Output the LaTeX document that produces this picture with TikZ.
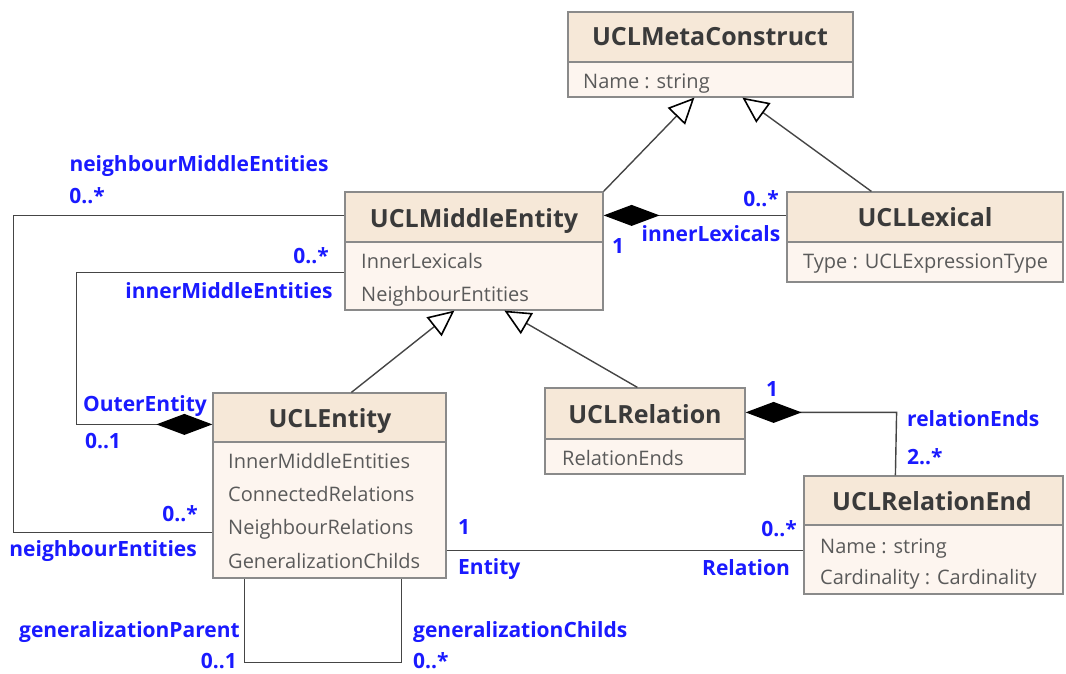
\documentclass[tikz,border=0pt]{standalone}
\usepackage{fontspec}
\setmainfont{Open Sans}
\usetikzlibrary{arrows.meta,fit,calc}

\definecolor{hdr}{HTML}{F6E8D8}
\definecolor{bdy}{HTML}{FDF5EF}
\definecolor{framecol}{HTML}{8A8A8A}
\definecolor{ink}{HTML}{3A3A3A}
\definecolor{attrink}{HTML}{5A5A5A}
\definecolor{rolecol}{HTML}{1A1AFF}
\definecolor{wirecol}{HTML}{454545}

% class box: name, x1, y1, x2, y2, y of header rule
\newcommand\umlbox[6]{%
  \fill[hdr] (#2,#3) rectangle (#4,#6);
  \fill[bdy] (#2,#6) rectangle (#4,#5);
  \draw[framecol, line width=1.2pt] (#2,#6) -- (#4,#6);
  \node[classframe, fit={(#2,#3)(#4,#5)}] (#1) {};
}

\begin{document}
\begin{tikzpicture}[x=1pt,y=-1pt,
  classframe/.style={draw=framecol, line width=1.2pt, inner sep=0pt},
  title/.style={font=\fontsize{25}{25}\selectfont\bfseries, text=ink, inner sep=0pt, anchor=mid, yshift=-6pt},
  attr/.style={font=\fontsize{20}{20}\selectfont, text=attrink, inner sep=0pt, anchor=mid west, yshift=-4pt},
  role/.style={font=\fontsize{21}{21}\selectfont\bfseries, text=rolecol, inner sep=0pt, anchor=mid, yshift=-4pt},
  wire/.style={draw=wirecol, line width=1.4pt},
  gen/.style={wire, -{Triangle[open, length=26pt, width=24pt, fill=white, line width=1.6pt, color=black]}},
  comp/.style={wire, {Diamond[length=56pt, width=21pt, color=black]}-},
]
\useasboundingbox (0,0) rectangle (1066,673);

% ---------- classes ----------
\umlbox{meta}{568}{12}{853}{97}{62}
\node[title] (metaT) at (710,37) {UCLMetaConstruct};
\node[attr] (metaA1) at (583,82) {Name : string};

\umlbox{mid}{345}{192}{603}{310}{242}
\node[title] (midT) at (474,219) {UCLMiddleEntity};
\node[attr] (midA1) at (361,262) {InnerLexicals};
\node[attr] (midA2) at (361,295) {NeighbourEntities};

\umlbox{lex}{787}{192}{1063}{282}{242}
\node[title] (lexT) at (925,218) {UCLLexical};
\node[attr] (lexA1) at (803,262) {Type : UCLExpressionType};

\umlbox{ent}{213}{393}{446}{578}{442}
\node[title] (entT) at (330,419) {UCLEntity};
\node[attr] (entA1) at (228,462) {InnerMiddleEntities};
\node[attr] (entA2) at (228,495) {ConnectedRelations};
\node[attr] (entA3) at (228,528) {NeighbourRelations};
\node[attr] (entA4) at (228,562) {GeneralizationChilds};

\umlbox{rel}{545}{388}{745}{474}{439}
\node[title] (relT) at (645,415) {UCLRelation};
\node[attr] (relA1) at (562,459) {RelationEnds};

\umlbox{rend}{804}{476}{1063}{594}{525}
\node[title] (rendT) at (932,502) {UCLRelationEnd};
\node[attr] (rendA1) at (820,547) {Name : string};
\node[attr] (rendA2) at (820,578) {Cardinality : Cardinality};

% ---------- generalizations ----------
\draw[gen] (mid.north east) -- ([xshift=127pt]meta.south west);
\draw[gen] ([xshift=85pt]lex.north west) -- ([xshift=175pt]meta.south west);
\draw[gen] ([xshift=139pt]ent.north west) -- ([xshift=110pt]mid.south west);
\draw[gen] ([xshift=93pt]rel.north west) -- ([xshift=160pt]mid.south west);

% ---------- compositions ----------
\draw[comp] ([yshift=-24pt]mid.north east) -- ([yshift=-24pt]lex.north west);
\draw[comp] ([yshift=-32pt]ent.north west) -- ++(-136,0) |- ([yshift=-81pt]mid.north west);
\draw[comp] ([yshift=-25pt]rel.north east) -- ++(151,0) -- ([xshift=92pt]rend.north west);

% ---------- associations ----------
\draw[wire] ([yshift=-24pt]mid.north west) -- ++(-331,0) |- ([yshift=46pt]ent.south west);
\draw[wire] ([yshift=28pt]ent.south east) -- ([yshift=44pt]rend.south west);
\draw[wire] ([xshift=32pt]ent.south west) -- ++(0,84) -| ([xshift=189pt]ent.south west);

% ---------- role names and multiplicities ----------
\node[role] (r1) at (199,165) {neighbourMiddleEntities};
\node[role] (r2) at (87,197) {0..*};
\node[role] (r3) at (311,257) {0..*};
\node[role] (r4) at (229,292) {innerMiddleEntities};
\node[role] (r5) at (145,405) {OuterEntity};
\node[role] (r6) at (103,442) {0..1};
\node[role] (r7) at (180,515) {0..*};
\node[role, anchor=mid east] (r8) at (197,550) {neighbourEntities};
\node[role] (r9) at (618,247) {1};
\node[role] (r10) at (761,200) {0..*};
\node[role] (r11) at (711,235) {innerLexicals};
\node[role] (r12) at (772,390) {1};
\node[role, anchor=mid west] (r13) at (907,420) {relationEnds};
\node[role, anchor=mid west] (r14) at (907,458) {2..*};
\node[role] (r15) at (464,528) {1};
\node[role, anchor=mid west] (r16) at (458,568) {Entity};
\node[role] (r17) at (779,530) {0..*};
\node[role] (r18) at (746,569) {Relation};
\node[role, anchor=mid east] (r19) at (240,631) {generalizationParent};
\node[role, anchor=mid east] (r20) at (237,662) {0..1};
\node[role, anchor=mid west] (r21) at (413,631) {generalizationChilds};
\node[role, anchor=mid west] (r22) at (413,662) {0..*};
\end{tikzpicture}
\end{document}
